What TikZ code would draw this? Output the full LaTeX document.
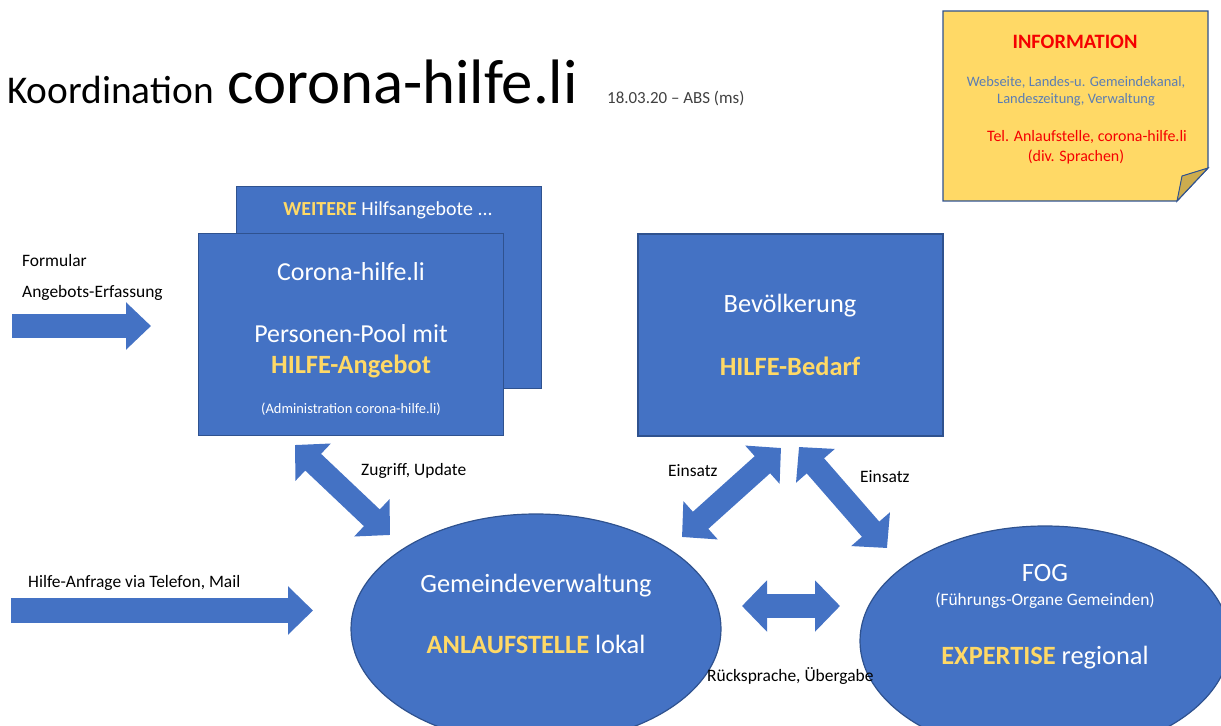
\documentclass[tikz,border=0pt]{standalone}
\usepackage{fontspec}
\setmainfont{Carlito}
\usetikzlibrary{arrows.meta,shapes.geometric}

\definecolor{boxblue}{RGB}{68,114,196}
\definecolor{boxline}{RGB}{47,82,143}
\definecolor{hiyellow}{RGB}{255,217,102}
\definecolor{notefill}{RGB}{255,217,102}
\definecolor{notefold}{RGB}{205,172,78}
\definecolor{notegrey}{RGB}{90,125,180}
\definecolor{notered}{RGB}{245,0,0}
\definecolor{datetext}{RGB}{64,64,64}

\newcommand{\fsz}[1]{\fontsize{#1}{#1}\selectfont}
\newcommand{\hl}[1]{\textbf{\color{hiyellow}#1}}

\tikzset{
	panel/.style={draw=boxline,line width=1.2bp,fill=boxblue,inner sep=0,minimum width=305bp,minimum height=202bp},
	blob/.style={ellipse,draw=boxline,line width=1.2bp,fill=boxblue,inner sep=0,minimum width=370bp,minimum height=230bp},
	intext/.style={text=white,anchor=base,inner sep=0},
	notetext/.style={anchor=base,inner sep=0},
	tag/.style={anchor=base west,inner sep=0,font=\fsz{17.5}},
	bigarrow/.style={draw=boxblue,line width=24bp,-{Triangle[width=46bp,length=25bp]}},
	twoway/.style={draw=boxblue,line width=23bp,{Triangle[width=50bp,length=25bp]}-{Triangle[width=50bp,length=25bp]}}
}

\begin{document}
\begin{tikzpicture}[x=1bp,y=-1bp]
	\useasboundingbox (0,0) rectangle (1221,726);
	\clip (0,0) rectangle (1221,726);
	\node[anchor=base west,inner sep=0,font=\fsz{39.5}] (title) at (7,104) {Koordination};
	\node[anchor=base west,inner sep=0,font=\fsz{63}] (site) at (227,104) {corona-hilfe.li};
	\node[anchor=base west,inner sep=0,font=\fsz{17},text=datetext] (date) at (607,104) {18.03.20 – ABS (ms)};
	\draw[draw=boxline,line width=1.3bp,fill=notefill] (943,11) -- (1208,11) -- (1208,168) -- (1177,201) -- (943,201) -- cycle;
	\draw[draw=boxline,line width=1bp,fill=notefold] (1208,168) -- (1182,176) -- (1177,201) -- cycle;
	\node[notetext,font=\fsz{20.5}\bfseries,text=notered] (info) at (1075,49) {INFORMATION};
	\node[notetext,font=\fsz{14.5},text=notegrey] (info-a) at (1076,87) {Webseite, Landes-u. Gemeindekanal,};
	\node[notetext,font=\fsz{14.5},text=notegrey] (info-b) at (1076,104) {Landeszeitung, Verwaltung};
	\node[notetext,font=\fsz{16},text=notered] (info-c) at (1087,141.5) {Tel. Anlaufstelle, corona-hilfe.li};
	\node[notetext,font=\fsz{16},text=notered] (info-d) at (1076,162) {(div. Sprachen)};
	\node[panel] (weitere) at (389,287.5) {};
	\node[panel] (pool) at (351,334.5) {};
	\node[panel] (bedarf) at (790.5,335) {};
	\node[blob] (gemeinde) at (536,629) {};
	\node[blob] (fog) at (1045,641) {};
	\node[intext,font=\fsz{20}] (weitere-t) at (388,216) {\hl{WEITERE} Hilfsangebote ...};
	\node[intext,font=\fsz{26}] (pool-a) at (351,280) {Corona-hilfe.li};
	\node[intext,font=\fsz{26}] (pool-b) at (351,342) {Personen-Pool mit};
	\node[intext,font=\fsz{26.5}] (pool-c) at (351,373) {\hl{HILFE-Angebot}};
	\node[intext,font=\fsz{14.5}] (pool-d) at (351,413) {(Administration corona-hilfe.li)};
	\node[intext,font=\fsz{26.5}] (bedarf-a) at (790,312) {Bevölkerung};
	\node[intext,font=\fsz{26.5}] (bedarf-b) at (790,375) {\hl{HILFE-Bedarf}};
	\node[intext,font=\fsz{26.5}] (gemeinde-a) at (536,592) {Gemeindeverwaltung};
	\node[intext,font=\fsz{26.5}] (gemeinde-b) at (536,653) {\hl{ANLAUFSTELLE} lokal};
	\node[intext,font=\fsz{26.5}] (fog-a) at (1045,581) {FOG};
	\node[intext,font=\fsz{17.5}] (fog-b) at (1045,605) {(Führungs-Organe Gemeinden)};
	\node[intext,font=\fsz{26.5}] (fog-c) at (1045,664) {\hl{EXPERTISE} regional};
	\node[tag] (formular) at (22,266) {Formular};
	\node[tag] (erfassung) at (22,297) {Angebots-Erfassung};
	\node[tag] (anfrage) at (28,587) {Hilfe-Anfrage via Telefon, Mail};
	\node[tag] (zugriff) at (361,475) {Zugriff, Update};
	\node[tag] (einsatz-l) at (668,476) {Einsatz};
	\node[tag] (einsatz-r) at (860,482) {Einsatz};
	\node[tag] (ruecksprache) at (707,681) {Rücksprache, Übergabe};
	\coordinate (formular-s) at (12,326);
	\coordinate (formular-e) at (151,326);
	\coordinate (anfrage-s) at (11,610.5);
	\coordinate (anfrage-e) at (313,610.5);
	\coordinate (zugriff-a) at (295,445);
	\coordinate (zugriff-b) at (390,535);
	\coordinate (einsatz-la) at (781,448);
	\coordinate (einsatz-lb) at (682,537);
	\coordinate (einsatz-ra) at (799,447);
	\coordinate (einsatz-rb) at (887,548);
	\coordinate (ruecksprache-a) at (742,606);
	\coordinate (ruecksprache-b) at (840,606);
	\draw[bigarrow] (formular-s) -- (formular-e);
	\draw[bigarrow,line width=25bp,-{Triangle[width=47bp,length=25bp]}] (anfrage-s) -- (anfrage-e);
	\draw[twoway] (zugriff-a) -- (zugriff-b);
	\draw[twoway] (einsatz-la) -- (einsatz-lb);
	\draw[twoway] (einsatz-ra) -- (einsatz-rb);
	\draw[twoway,line width=24bp] (ruecksprache-a) -- (ruecksprache-b);
\end{tikzpicture}
\end{document}
